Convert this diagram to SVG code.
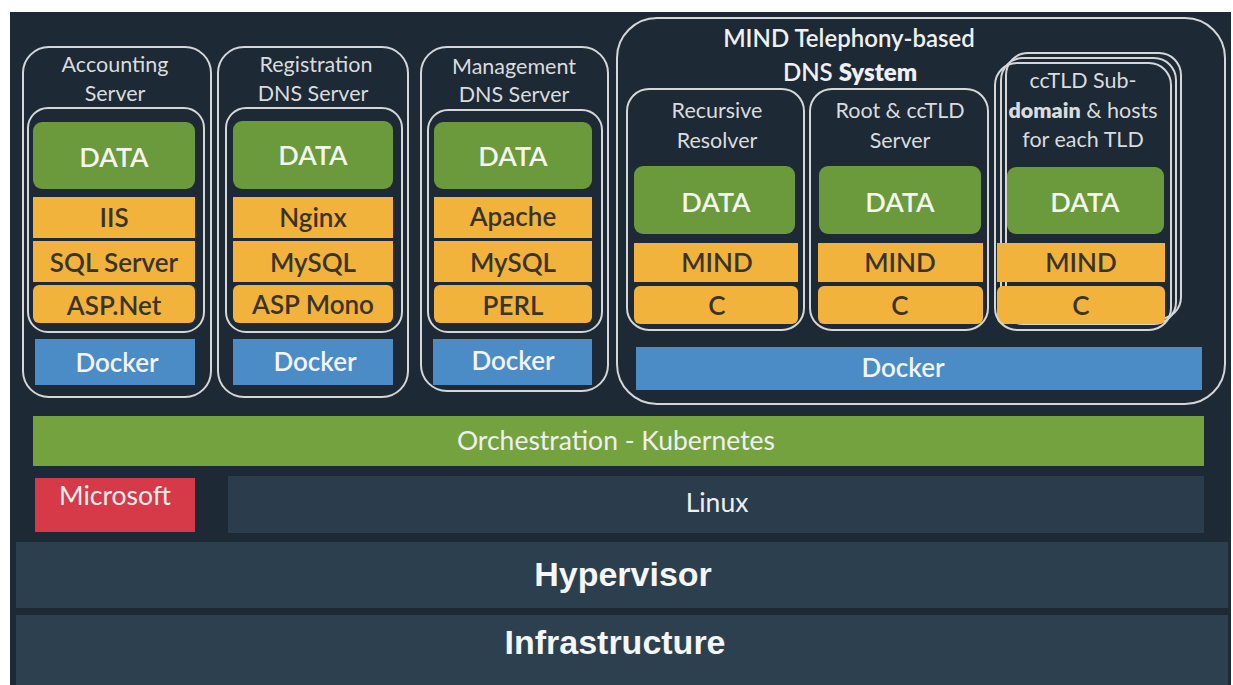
<svg xmlns="http://www.w3.org/2000/svg" width="1233" height="685" viewBox="0 0 1233 685">
<style>
.frame{fill:none;stroke:#d4d6d8;stroke-width:2}
.data{fill:#6b9a3c}
.yel{fill:#f1b33c}
.blue{fill:#4b8bc6}
.lbl{font-family:Lato,"Open Sans","Liberation Sans",sans-serif;font-size:21.5px;fill:#d9dcdf;text-anchor:middle}
.ttl{font-family:Lato,"Open Sans","Liberation Sans",sans-serif;font-size:24px;fill:#eef0f2;text-anchor:middle;font-weight:600}
.wt{font-family:Lato,"Open Sans","Liberation Sans",sans-serif;font-size:27px;fill:#f4f6ee;text-anchor:middle;font-weight:600}
.dk{font-family:Lato,"Open Sans","Liberation Sans",sans-serif;font-size:26px;fill:#3a3328;text-anchor:middle;font-weight:600}
.dock{font-family:Lato,"Open Sans","Liberation Sans",sans-serif;font-size:26px;fill:#f2f4f8;text-anchor:middle;font-weight:600}
.band{font-family:Lato,"Open Sans","Liberation Sans",sans-serif;font-size:26.5px;fill:#eef0f0;text-anchor:middle}
.big{font-family:"Liberation Sans",Arial,sans-serif;font-size:34px;fill:#f4f6f8;text-anchor:middle;font-weight:bold}
</style>
<rect x="0" y="0" width="1233" height="685" fill="#ffffff"/>
<rect x="10" y="12" width="1221" height="673" fill="#1d2934"/>

<g id="infrastructure">
<rect x="16" y="615" width="1212" height="70" fill="#2d404f"/>
<text class="big" x="615" y="642" dominant-baseline="central">Infrastructure</text>
</g>
<g id="hypervisor">
<rect x="16" y="542" width="1212" height="66" fill="#2c3f4e"/>
<text class="big" x="623" y="574" dominant-baseline="central">Hypervisor</text>
</g>
<g id="linux">
<rect x="228" y="476" width="976" height="57" fill="#2b3d4c"/>
<text class="band" x="717" y="502" dominant-baseline="central">Linux</text>
</g>
<g id="microsoft">
<rect x="35" y="478" width="160" height="54" fill="#d63a48"/>
<text class="band" x="115" y="495" dominant-baseline="central">Microsoft</text>
</g>
<g id="kubernetes">
<rect x="33" y="416" width="1171" height="50" fill="#74a23f"/>
<text class="band" x="616" y="440" dominant-baseline="central">Orchestration - Kubernetes</text>
</g>

<g id="accounting">
<rect class="frame" x="23" y="47" width="188" height="350" rx="26"/>
<text class="lbl" x="115" y="64" dominant-baseline="central">Accounting</text>
<text class="lbl" x="115" y="93" dominant-baseline="central">Server</text>
<rect class="frame" x="28" y="108" width="176" height="224" rx="20"/>
<rect class="data" x="33" y="122" width="162" height="67" rx="9"/>
<text class="wt" x="114" y="156" dominant-baseline="central">DATA</text>
<rect class="yel" x="33" y="197" width="162" height="41"/>
<text class="dk" x="114" y="217" dominant-baseline="central">IIS</text>
<rect class="yel" x="33" y="241" width="162" height="41"/>
<text class="dk" x="114" y="262" dominant-baseline="central">SQL Server</text>
<rect class="yel" x="33" y="285" width="162" height="38" rx="6"/>
<text class="dk" x="114" y="305" dominant-baseline="central">ASP.Net</text>
<rect class="blue" x="35" y="339" width="160" height="46"/>
<text class="dock" x="117" y="362" dominant-baseline="central">Docker</text>
</g>

<g id="registration">
<rect class="frame" x="218" y="47" width="190" height="350" rx="26"/>
<text class="lbl" x="316" y="64" dominant-baseline="central">Registration</text>
<text class="lbl" x="313" y="93" dominant-baseline="central">DNS Server</text>
<rect class="frame" x="226" y="108" width="176" height="224" rx="20"/>
<rect class="data" x="233" y="121" width="160" height="68" rx="9"/>
<text class="wt" x="313" y="154" dominant-baseline="central">DATA</text>
<rect class="yel" x="233" y="197" width="160" height="41"/>
<text class="dk" x="313" y="217" dominant-baseline="central">Nginx</text>
<rect class="yel" x="233" y="241" width="160" height="41"/>
<text class="dk" x="313" y="262" dominant-baseline="central">MySQL</text>
<rect class="yel" x="233" y="285" width="160" height="38" rx="6"/>
<text class="dk" x="313" y="304" dominant-baseline="central">ASP Mono</text>
<rect class="blue" x="233" y="339" width="160" height="46"/>
<text class="dock" x="315" y="361" dominant-baseline="central">Docker</text>
</g>

<g id="management">
<rect class="frame" x="421" y="47" width="187" height="344" rx="26"/>
<text class="lbl" x="514" y="66" dominant-baseline="central">Management</text>
<text class="lbl" x="514" y="94" dominant-baseline="central">DNS Server</text>
<rect class="frame" x="428" y="110" width="174" height="222" rx="20"/>
<rect class="data" x="434" y="122" width="158" height="67" rx="9"/>
<text class="wt" x="513" y="155" dominant-baseline="central">DATA</text>
<rect class="yel" x="434" y="197" width="158" height="41"/>
<text class="dk" x="513" y="216" dominant-baseline="central">Apache</text>
<rect class="yel" x="434" y="241" width="158" height="41"/>
<text class="dk" x="513" y="262" dominant-baseline="central">MySQL</text>
<rect class="yel" x="434" y="285" width="158" height="38" rx="6"/>
<text class="dk" x="513" y="305" dominant-baseline="central" font-weight="800">PERL</text>
<rect class="blue" x="433" y="339" width="159" height="46"/>
<text class="dock" x="513" y="360" dominant-baseline="central">Docker</text>
</g>

<g id="mind-system">
<rect class="frame" x="617" y="18" width="608" height="386" rx="40"/>
<text class="ttl" x="849" y="37" dominant-baseline="central">MIND Telephony-based</text>
<text class="ttl" x="850" y="71" dominant-baseline="central">DNS <tspan font-weight="800">System</tspan></text>
<rect class="blue" x="636" y="347" width="566" height="43"/>
<text class="dock" x="903" y="367" dominant-baseline="central">Docker</text>
</g>

<g id="recursive-resolver">
<rect class="frame" x="627" y="89" width="177" height="241" rx="22"/>
<text class="lbl" x="717" y="110" dominant-baseline="central">Recursive</text>
<text class="lbl" x="717" y="140" dominant-baseline="central">Resolver</text>
<rect class="data" x="634" y="166" width="161" height="68" rx="9"/>
<text class="wt" x="716" y="201" dominant-baseline="central">DATA</text>
<rect class="yel" x="634" y="243" width="164" height="39"/>
<text class="dk" x="717" y="262" dominant-baseline="central" font-weight="800">MIND</text>
<rect class="yel" x="634" y="286" width="164" height="38" rx="6"/>
<text class="dk" x="717" y="305" dominant-baseline="central" font-weight="400">C</text>
</g>

<g id="root-cctld">
<rect class="frame" x="810" y="89" width="178" height="241" rx="22"/>
<text class="lbl" x="900" y="110" dominant-baseline="central">Root &amp; ccTLD</text>
<text class="lbl" x="900" y="140" dominant-baseline="central">Server</text>
<rect class="data" x="819" y="166" width="162" height="68" rx="9"/>
<text class="wt" x="900" y="201" dominant-baseline="central">DATA</text>
<rect class="yel" x="818" y="243" width="165" height="39"/>
<text class="dk" x="900" y="262" dominant-baseline="central" font-weight="800">MIND</text>
<rect class="yel" x="818" y="286" width="165" height="38" rx="6"/>
<text class="dk" x="900" y="305" dominant-baseline="central" font-weight="400">C</text>
</g>

<g id="cctld-subdomain">
<rect class="frame" x="1006" y="53" width="175" height="266" rx="22"/>
<rect class="frame" x="1001" y="58" width="175" height="266" rx="22"/>
<rect class="data" x="1007" y="167" width="157" height="67" rx="9"/>
<rect class="yel" x="997" y="243" width="168" height="39"/>
<rect class="yel" x="997" y="286" width="168" height="38" rx="6"/>
<rect class="frame" x="995" y="63" width="176" height="267" rx="22"/>
<text class="lbl" x="1083" y="80" dominant-baseline="central">ccTLD Sub-</text>
<text class="lbl" x="1083" y="110" dominant-baseline="central"><tspan font-weight="800">domain</tspan> &amp; hosts</text>
<text class="lbl" x="1083" y="139" dominant-baseline="central">for each TLD</text>
<text class="wt" x="1085" y="201" dominant-baseline="central">DATA</text>
<text class="dk" x="1081" y="262" dominant-baseline="central" font-weight="800">MIND</text>
<text class="dk" x="1081" y="305" dominant-baseline="central" font-weight="400">C</text>
</g>
</svg>
